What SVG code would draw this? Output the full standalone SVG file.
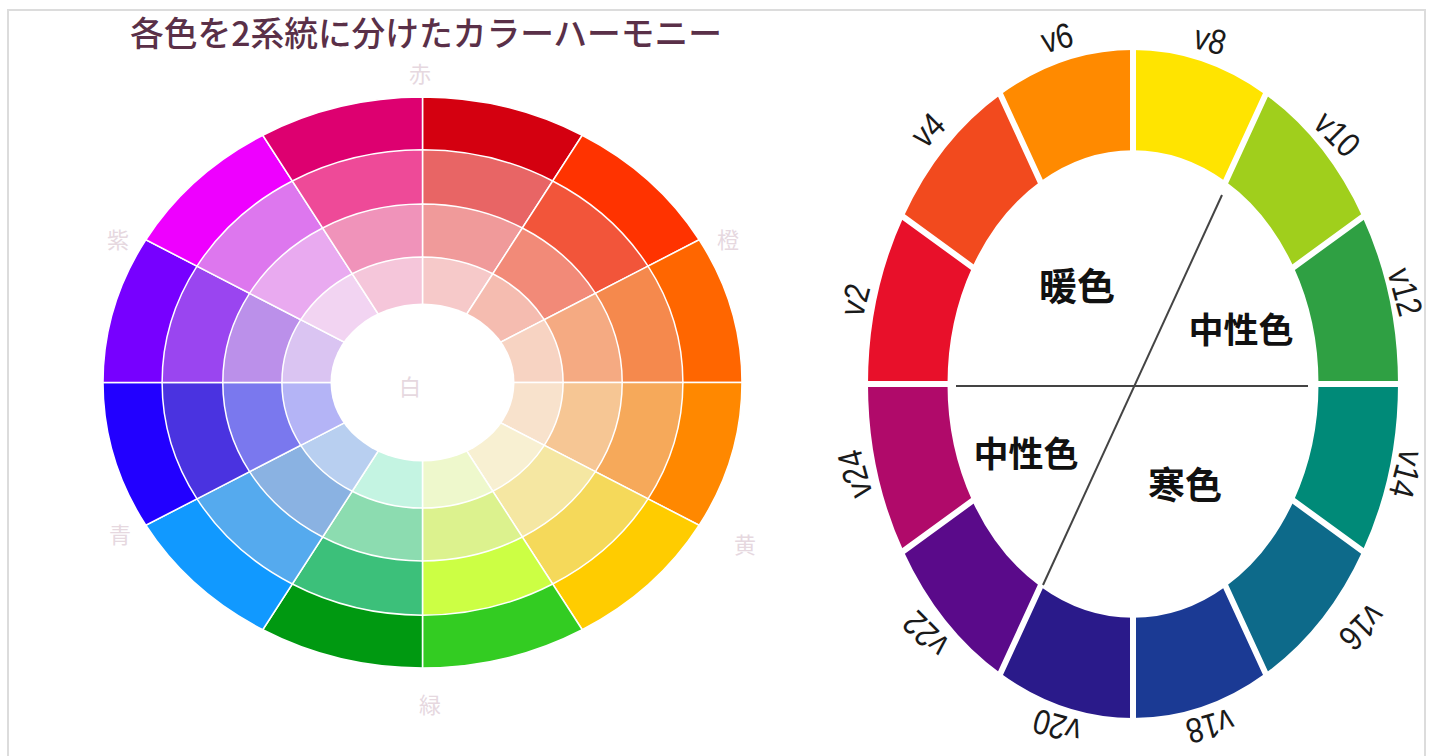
<svg xmlns="http://www.w3.org/2000/svg" xmlns:xlink="http://www.w3.org/1999/xlink" width="1432" height="756" viewBox="0 0 1432 756">
<style>
.wd{vector-effect:non-scaling-stroke}
.ring use{stroke:#fff;stroke-width:1.5}
.seg{stroke:none}
.gap{stroke:#fff;stroke-width:6;vector-effect:non-scaling-stroke}
.lbl{font-family:"Liberation Sans",Arial,sans-serif;font-size:35px;fill:#1a1a1a;text-anchor:middle;dominant-baseline:central}
.cj{font-family:"Noto Sans CJK SC","Noto Sans CJK JP",sans-serif;font-weight:700;fill:#111;text-anchor:middle;dominant-baseline:central}
.faint{font-family:"Noto Sans CJK JP",sans-serif;font-size:22px;fill:#e6d8df;text-anchor:middle;dominant-baseline:central}
.title{font-family:"Noto Sans CJK JP",sans-serif;font-size:34px;font-weight:500;fill:#5a3048}
.div{stroke:#444;stroke-width:2;fill:none}
</style>
<defs>
<path id="w0" class="wd" d="M0 0L0 -100A100 100 0 0 1 50 -86.6Z"/>
<path id="w1" class="wd" d="M0 0L50 -86.6A100 100 0 0 1 86.6 -50Z"/>
<path id="w2" class="wd" d="M0 0L86.6 -50A100 100 0 0 1 100 0Z"/>
<path id="w3" class="wd" d="M0 0L100 0A100 100 0 0 1 86.6 50Z"/>
<path id="w4" class="wd" d="M0 0L86.6 50A100 100 0 0 1 50 86.6Z"/>
<path id="w5" class="wd" d="M0 0L50 86.6A100 100 0 0 1 0 100Z"/>
<path id="w6" class="wd" d="M0 0L0 100A100 100 0 0 1 -50 86.6Z"/>
<path id="w7" class="wd" d="M0 0L-50 86.6A100 100 0 0 1 -86.6 50Z"/>
<path id="w8" class="wd" d="M0 0L-86.6 50A100 100 0 0 1 -100 0Z"/>
<path id="w9" class="wd" d="M0 0L-100 0A100 100 0 0 1 -86.6 -50Z"/>
<path id="w10" class="wd" d="M0 0L-86.6 -50A100 100 0 0 1 -50 -86.6Z"/>
<path id="w11" class="wd" d="M0 0L-50 -86.6A100 100 0 0 1 0 -100Z"/>
<path id="a0" d="M0 -100A100 100 0 0 1 50 -86.6L35 -60.62A70 70 0 0 0 0 -70Z"/>
<path id="a1" d="M50 -86.6A100 100 0 0 1 86.6 -50L60.62 -35A70 70 0 0 0 35 -60.62Z"/>
<path id="a2" d="M86.6 -50A100 100 0 0 1 100 0L70 0A70 70 0 0 0 60.62 -35Z"/>
<path id="a3" d="M100 0A100 100 0 0 1 86.6 50L60.62 35A70 70 0 0 0 70 0Z"/>
<path id="a4" d="M86.6 50A100 100 0 0 1 50 86.6L35 60.62A70 70 0 0 0 60.62 35Z"/>
<path id="a5" d="M50 86.6A100 100 0 0 1 0 100L0 70A70 70 0 0 0 35 60.62Z"/>
<path id="a6" d="M0 100A100 100 0 0 1 -50 86.6L-35 60.62A70 70 0 0 0 0 70Z"/>
<path id="a7" d="M-50 86.6A100 100 0 0 1 -86.6 50L-60.62 35A70 70 0 0 0 -35 60.62Z"/>
<path id="a8" d="M-86.6 50A100 100 0 0 1 -100 0L-70 0A70 70 0 0 0 -60.62 35Z"/>
<path id="a9" d="M-100 0A100 100 0 0 1 -86.6 -50L-60.62 -35A70 70 0 0 0 -70 0Z"/>
<path id="a10" d="M-86.6 -50A100 100 0 0 1 -50 -86.6L-35 -60.62A70 70 0 0 0 -60.62 -35Z"/>
<path id="a11" d="M-50 -86.6A100 100 0 0 1 0 -100L0 -70A70 70 0 0 0 -35 -60.62Z"/>
</defs>

<rect x="0" y="0" width="1432" height="756" fill="#fff"/>
<rect x="8" y="10" width="1417" height="760" fill="none" stroke="#dcdcdc" stroke-width="2"/>

<g id="title">
<text class="title" x="130" y="46" textLength="592" lengthAdjust="spacingAndGlyphs">各色を2系統に分けたカラーハーモニー</text>
</g>

<g id="left-wheel">
<g class="ring" transform="translate(422.5,382.5) scale(3.195,2.855)">
<use href="#w0" fill="#d40010"/><use href="#w1" fill="#ff3300"/><use href="#w2" fill="#ff6600"/><use href="#w3" fill="#ff8800"/>
<use href="#w4" fill="#ffcc00"/><use href="#w5" fill="#33cc22"/><use href="#w6" fill="#009911"/><use href="#w7" fill="#1199ff"/>
<use href="#w8" fill="#2200ff"/><use href="#w9" fill="#7700ff"/><use href="#w10" fill="#ee00ff"/><use href="#w11" fill="#dd0070"/>
</g>
<g class="ring" transform="translate(422.5,382.5) scale(2.604,2.327)">
<use href="#w0" fill="#e86565"/><use href="#w1" fill="#f2553a"/><use href="#w2" fill="#f5894d"/><use href="#w3" fill="#f6a95a"/>
<use href="#w4" fill="#f5d95a"/><use href="#w5" fill="#ccff44"/><use href="#w6" fill="#3cc07a"/><use href="#w7" fill="#55aaee"/>
<use href="#w8" fill="#4a33e0"/><use href="#w9" fill="#9a45f0"/><use href="#w10" fill="#dd77ee"/><use href="#w11" fill="#ee4a98"/>
</g>
<g class="ring" transform="translate(422.5,382.5) scale(1.997,1.784)">
<use href="#w0" fill="#f09a9a"/><use href="#w1" fill="#f28a78"/><use href="#w2" fill="#f5aa82"/><use href="#w3" fill="#f6c694"/>
<use href="#w4" fill="#f5e7a2"/><use href="#w5" fill="#dcf28e"/><use href="#w6" fill="#8cdcb0"/><use href="#w7" fill="#8ab2e2"/>
<use href="#w8" fill="#7a78ee"/><use href="#w9" fill="#bb90ea"/><use href="#w10" fill="#e9aaf0"/><use href="#w11" fill="#f093ba"/>
</g>
<g class="ring" transform="translate(422.5,382.5) scale(1.406,1.256)">
<use href="#w0" fill="#f6c9c9"/><use href="#w1" fill="#f5bcb0"/><use href="#w2" fill="#f7d3c2"/><use href="#w3" fill="#f8e2cc"/>
<use href="#w4" fill="#f8f0d2"/><use href="#w5" fill="#eef8cc"/><use href="#w6" fill="#c4f4e2"/><use href="#w7" fill="#b8cff0"/>
<use href="#w8" fill="#b4b4f6"/><use href="#w9" fill="#dac4f2"/><use href="#w10" fill="#f2d4f2"/><use href="#w11" fill="#f5c6da"/>
</g>
<ellipse cx="422.5" cy="382.5" rx="92" ry="79" fill="#fff"/>
<text class="faint" x="420" y="72">赤</text>
<text class="faint" x="728" y="238">橙</text>
<text class="faint" x="745" y="543">黄</text>
<text class="faint" x="430" y="703">緑</text>
<text class="faint" x="120" y="533">青</text>
<text class="faint" x="118" y="238">紫</text>
<text class="faint" x="410" y="385">白</text>
</g>

<g id="right-wheel">
<g transform="translate(1133,384) scale(2.65,3.34)">
<use class="seg" href="#a0" fill="#ffe400"/>
<use class="seg" href="#a1" fill="#a0cf1c"/>
<use class="seg" href="#a2" fill="#2fa043"/>
<use class="seg" href="#a3" fill="#008a78"/>
<use class="seg" href="#a4" fill="#0d6a8a"/>
<use class="seg" href="#a5" fill="#1b3a94"/>
<use class="seg" href="#a6" fill="#2a1a8a"/>
<use class="seg" href="#a7" fill="#5a0a8a"/>
<use class="seg" href="#a8" fill="#b00a6a"/>
<use class="seg" href="#a9" fill="#e8102a"/>
<use class="seg" href="#a10" fill="#f24a1e"/>
<use class="seg" href="#a11" fill="#ff8a00"/>
<path class="gap" d="M0 -60L0 -106M30 -52L53 -91.8M52 -30L91.8 -53M60 0L106 0M52 30L91.8 53M30 52L53 91.8M0 60L0 106M-30 52L-53 91.8M-52 30L-91.8 53M-60 0L-106 0M-52 -30L-91.8 -53M-30 -52L-53 -91.8"/>
</g>
</g>

<g id="labels">
<text class="lbl" transform="translate(1210,40) rotate(15) scale(0.85,1)">v8</text>
<text class="lbl" transform="translate(1337,134) rotate(45) scale(0.85,1)">v10</text>
<text class="lbl" transform="translate(1405,292) rotate(75) scale(0.85,1)">v12</text>
<text class="lbl" transform="translate(1406,474) rotate(105) scale(0.85,1)">v14</text>
<text class="lbl" transform="translate(1362,627) rotate(135) scale(0.85,1)">v16</text>
<text class="lbl" transform="translate(1210,726) rotate(165) scale(0.85,1)">v18</text>
<text class="lbl" transform="translate(1057,726) rotate(195) scale(0.85,1)">v20</text>
<text class="lbl" transform="translate(926,634) rotate(225) scale(0.85,1)">v22</text>
<text class="lbl" transform="translate(855,474) rotate(255) scale(0.85,1)">v24</text>
<text class="lbl" transform="translate(855,300) rotate(-75) scale(0.85,1)">v2</text>
<text class="lbl" transform="translate(928,130) rotate(-45) scale(0.85,1)">v4</text>
<text class="lbl" transform="translate(1057,38) rotate(-15) scale(0.85,1)">v6</text>
</g>

<g id="connectors">
<line class="div" x1="956" y1="386" x2="1308" y2="386"/>
<line class="div" x1="1222" y1="195" x2="1043" y2="585" stroke-width="1.6"/>
</g>

<g id="regions">
<text class="cj" x="1077" y="283" font-size="38">暖色</text>
<text class="cj" x="1241" y="327" font-size="35">中性色</text>
<text class="cj" x="1026" y="451" font-size="35">中性色</text>
<text class="cj" x="1185" y="483" font-size="37">寒色</text>
</g>
</svg>
